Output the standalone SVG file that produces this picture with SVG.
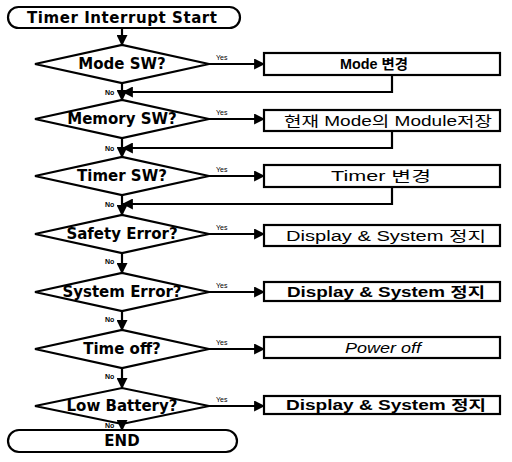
<svg xmlns="http://www.w3.org/2000/svg" width="512" height="462" viewBox="0 0 512 462">
<defs>
<style>
.shape{fill:#fff;stroke:#000;stroke-width:2.2}
.ln{fill:none;stroke:#000;stroke-width:2.2}
.t{font-family:"DejaVu Sans","Liberation Sans",sans-serif;font-weight:bold;font-size:15px;text-anchor:middle;dominant-baseline:central;fill:#000}
.bx{font-family:"Liberation Sans","Noto Sans CJK KR",sans-serif;font-size:14px;text-anchor:middle;dominant-baseline:central;fill:#000}
.b{font-weight:bold}
.yes{font-family:"Liberation Sans",sans-serif;font-size:7px;fill:#000}
.no{font-family:"Liberation Sans",sans-serif;font-size:7px;font-weight:bold;fill:#000}
</style>
<marker id="ah" viewBox="0 0 10 10" refX="9" refY="5" markerWidth="5" markerHeight="5" orient="auto" markerUnits="strokeWidth"><path d="M0,0 L10,5 L0,10 z" fill="#000"/></marker>
</defs>

<g id="start"><rect class="shape" x="8" y="7" width="232" height="21" rx="10.5"/><text class="t" x="122" y="17.5" font-size="14.5" textLength="190">Timer Interrupt Start</text></g>

<g id="d1"><polygon class="shape" points="35,64 122,45 209,64 122,83"/><text class="t" x="122" y="64">Mode SW?</text></g>
<g id="d2"><polygon class="shape" points="35,119 122,100 209,119 122,138"/><text class="t" x="122" y="119">Memory SW?</text></g>
<g id="d3"><polygon class="shape" points="35,176 122,157 209,176 122,195"/><text class="t" x="122" y="176">Timer SW?</text></g>
<g id="d4"><polygon class="shape" points="35,234 122,215 209,234 122,253"/><text class="t" x="122" y="234">Safety Error?</text></g>
<g id="d5"><polygon class="shape" points="35,292 122,273 209,292 122,311"/><text class="t" x="122" y="292">System Error?</text></g>
<g id="d6"><polygon class="shape" points="35,349 122,330 209,349 122,368"/><text class="t" x="122" y="349">Time off?</text></g>
<g id="d7"><polygon class="shape" points="35,406 122,388 209,406 122,424"/><text class="t" x="122" y="406">Low Battery?</text></g>

<g id="b1"><rect class="shape" x="264" y="53" width="236" height="22"/><text class="bx b" x="374" y="64" textLength="68" lengthAdjust="spacingAndGlyphs">Mode 변경</text></g>
<g id="b2"><rect class="shape" x="264" y="110" width="236" height="21"/><text class="bx" x="388" y="120.5" textLength="208" lengthAdjust="spacingAndGlyphs">현재 Mode의 Module저장</text></g>
<g id="b3"><rect class="shape" x="264" y="165" width="236" height="22"/><text class="bx" x="381" y="176" textLength="100" lengthAdjust="spacingAndGlyphs">Timer 변경</text></g>
<g id="b4"><rect class="shape" x="264" y="225" width="236" height="21"/><text class="bx" x="386" y="235.5" textLength="200" lengthAdjust="spacingAndGlyphs">Display &amp; System 정지</text></g>
<g id="b5"><rect class="shape" x="264" y="282" width="236" height="19"/><text class="bx b" x="386" y="291.5" textLength="198" lengthAdjust="spacingAndGlyphs">Display &amp; System 정지</text></g>
<g id="b6"><rect class="shape" x="264" y="337" width="236" height="21"/><text class="bx" x="383" y="347.5" font-style="italic" textLength="76" lengthAdjust="spacingAndGlyphs">Power off</text></g>
<g id="b7"><rect class="shape" x="264" y="396" width="236" height="18"/><text class="bx b" x="386" y="405" textLength="200" lengthAdjust="spacingAndGlyphs">Display &amp; System 정지</text></g>

<g id="end"><rect class="shape" x="8" y="430" width="229" height="22" rx="11"/><text class="t" x="122" y="441" font-size="14">END</text></g>

<g id="connectors">
<line class="ln" x1="122" y1="28" x2="122" y2="45" marker-end="url(#ah)"/>
<line class="ln" x1="122" y1="83" x2="122" y2="100" marker-end="url(#ah)"/>
<line class="ln" x1="122" y1="138" x2="122" y2="157" marker-end="url(#ah)"/>
<line class="ln" x1="122" y1="195" x2="122" y2="215" marker-end="url(#ah)"/>
<line class="ln" x1="122" y1="253" x2="122" y2="273" marker-end="url(#ah)"/>
<line class="ln" x1="122" y1="311" x2="122" y2="330" marker-end="url(#ah)"/>
<line class="ln" x1="122" y1="368" x2="122" y2="388" marker-end="url(#ah)"/>
<line class="ln" x1="122" y1="424" x2="122" y2="430" marker-end="url(#ah)"/>

<line class="ln" x1="209" y1="64" x2="264" y2="64" marker-end="url(#ah)"/>
<line class="ln" x1="209" y1="119" x2="264" y2="119" marker-end="url(#ah)"/>
<line class="ln" x1="209" y1="176" x2="264" y2="176" marker-end="url(#ah)"/>
<line class="ln" x1="209" y1="234" x2="264" y2="234" marker-end="url(#ah)"/>
<line class="ln" x1="209" y1="292" x2="264" y2="292" marker-end="url(#ah)"/>
<line class="ln" x1="209" y1="349" x2="264" y2="349" marker-end="url(#ah)"/>
<line class="ln" x1="209" y1="406" x2="264" y2="406" marker-end="url(#ah)"/>

<polyline class="ln" points="392,75 392,92 123,92" marker-end="url(#ah)"/>
<polyline class="ln" points="392,131 392,148 123,148" marker-end="url(#ah)"/>
<polyline class="ln" points="392,187 392,204 123,204" marker-end="url(#ah)"/>

<text class="yes" x="216" y="60">Yes</text>
<text class="yes" x="216" y="115">Yes</text>
<text class="yes" x="216" y="172">Yes</text>
<text class="yes" x="216" y="230">Yes</text>
<text class="yes" x="216" y="288">Yes</text>
<text class="yes" x="216" y="345">Yes</text>
<text class="yes" x="216" y="402">Yes</text>

<text class="no" x="105" y="95">No</text>
<text class="no" x="105" y="151">No</text>
<text class="no" x="105" y="207">No</text>
<text class="no" x="105" y="264">No</text>
<text class="no" x="105" y="322">No</text>
<text class="no" x="105" y="379">No</text>
<text class="no" x="105" y="428">No</text>
</g>
</svg>
